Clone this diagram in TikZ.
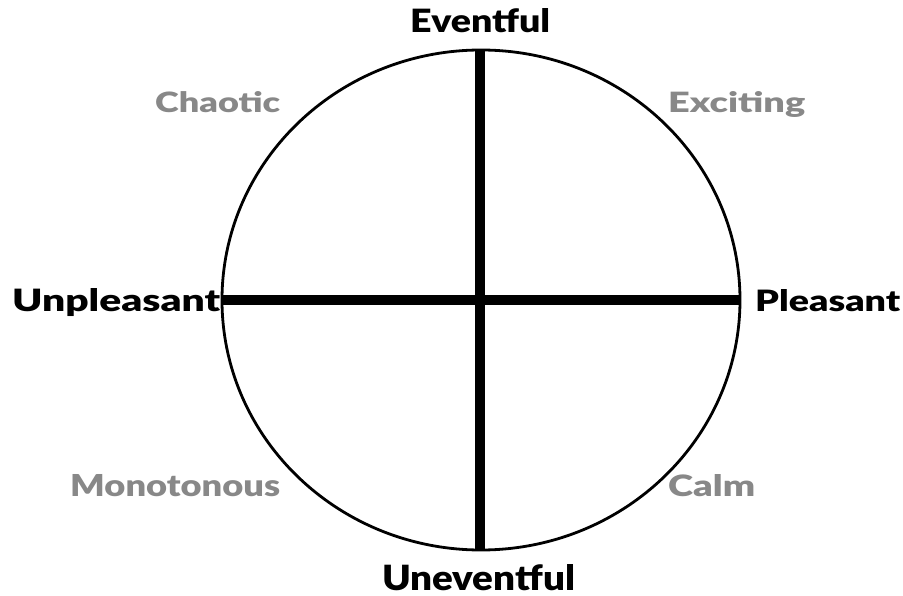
\documentclass[tikz,border=0pt]{standalone}
\usepackage{fontspec}
\setmainfont{Lato}
\newfontfamily\heavy{Lato Black}
\usepackage{graphicx}
\definecolor{lbl}{HTML}{888888}
\begin{document}
\begin{tikzpicture}[x=1pt,y=-1pt,
  axis/.style={line width=10pt},
  main/.style={inner sep=0pt, anchor=base west, font=\heavy},
  sub/.style={inner sep=0pt, anchor=base west, font=\heavy, text=lbl}]
\useasboundingbox[fill=white] (0,0) rectangle (903,596);
\coordinate (c) at (481,300);
\coordinate (top) at (480,50);
\coordinate (bot) at (480,550);
\coordinate (lft) at (222,300);
\coordinate (rgt) at (740,300);
\draw[line width=2.8pt] (c) ellipse [x radius=259, y radius=250];
\draw[axis] (top) -- (bot);
\draw[axis] (lft) -- (rgt);
\node[main] (ev) at (410,33) {\resizebox{140pt}{24pt}{Eventful}};
\node[main] (un) at (382,590) {\resizebox{193pt}{26pt}{Uneventful}};
\node[main] (up) at (12,312) {\resizebox{208pt}{23pt}{Unpleasant}};
\node[main] (pl) at (755,312) {\resizebox{145pt}{22pt}{Pleasant}};
\node[sub] (ch) at (155,113) {\resizebox{125pt}{21pt}{Chaotic}};
\node[sub] (ex) at (668,113) {\resizebox{137pt}{21pt}{Exciting}};
\node[sub] (mo) at (70,496) {\resizebox{210pt}{22pt}{Monotonous}};
\node[sub] (ca) at (668,496) {\resizebox{87pt}{22pt}{Calm}};
\end{tikzpicture}
\end{document}
